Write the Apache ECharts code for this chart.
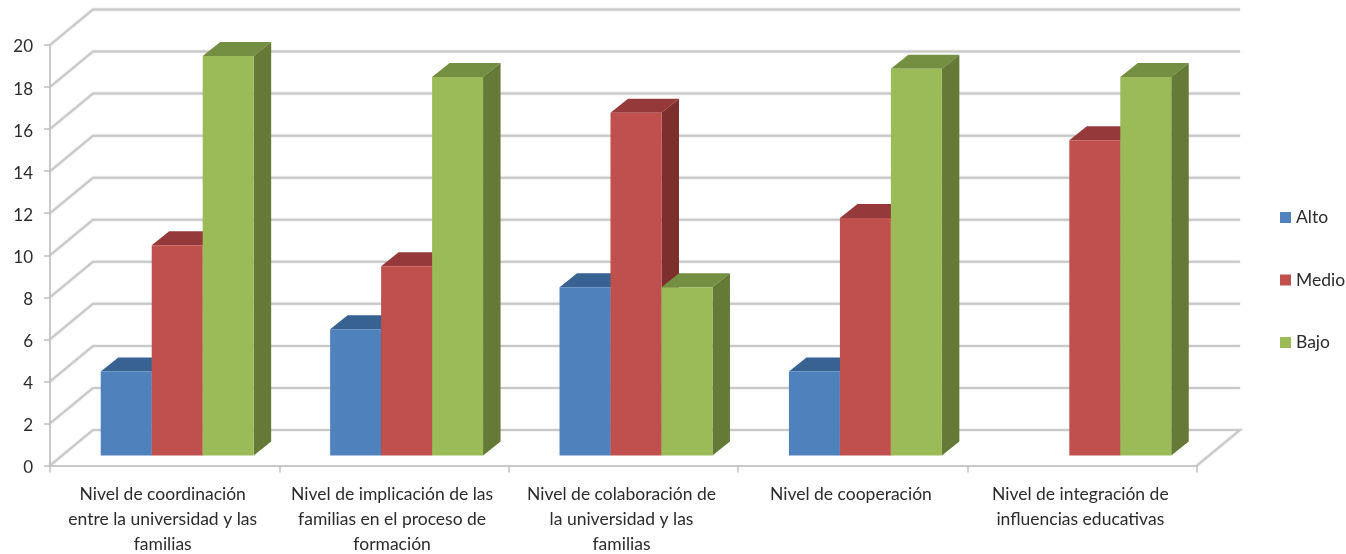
<!DOCTYPE html>
<html>
<head>
<meta charset="utf-8">
<style>html,body{margin:0;padding:0;background:#fff}#c{width:1346px;height:554px;filter:blur(0.5px)}</style>
<script src="https://cdn.jsdelivr.net/npm/echarts@6/dist/echarts.min.js"></script>
</head>
<body>
<div id="c"></div>
<script>
var categories = [
  "Nivel de coordinación\nentre la universidad y las\nfamilias",
  "Nivel de implicación de las\nfamilias en el proceso de\nformación",
  "Nivel de colaboración de\nla universidad y las\nfamilias",
  "Nivel de cooperación",
  "Nivel de integración de\ninfluencias educativas"
];
var alto = [4, 6, 8, 4, null];
var medio = [10, 9, 16.3, 11.3, 15];
var bajo = [19, 18, 8, 18.4, 18];
var yTicks = [0, 2, 4, 6, 8, 10, 12, 14, 16, 18, 20];

var FONT = 'Lato, "Open Sans", sans-serif';
var WALL = { dx: 43, dy: -35.5 };
var BASE = { dx: 12.5, dy: -10 };
var DEPTH = { dx: 17.5, dy: -14 };
var GAP_RATIO = 4.5;

function wallItem(params, api) {
  var cs = params.coordSys;
  var v = api.value(0);
  var y = api.coord([0, v])[1];
  var xl = cs.x, xr = cs.x + cs.width;
  var style = { stroke: '#c9c9c9', lineWidth: 2, fill: null, shadowBlur: 1.5, shadowColor: 'rgba(150,150,150,0.5)' };
  var pts = v === 0
    ? [[xr, y], [xr + WALL.dx, y + WALL.dy], [xl + WALL.dx, y + WALL.dy], [xl, y]]
    : [[xl, y], [xl + WALL.dx, y + WALL.dy], [xr + WALL.dx, y + WALL.dy]];
  return { type: 'polyline', shape: { points: pts }, style: style, silent: true };
}

function barRender(index, face, top, side) {
  return function (params, api) {
    var val = api.value(1);
    if (val === null || val === undefined || isNaN(val)) return null;
    var cat = api.value(0);
    var catW = api.size([1, 0])[0];
    var w = catW / GAP_RATIO;
    var cx = api.coord([cat, 0])[0];
    var x0 = cx - 1.5 * w + index * w + BASE.dx;
    var x1 = x0 + w;
    var y0 = api.coord([cat, 0])[1] + BASE.dy;
    var y1 = api.coord([cat, val])[1] + BASE.dy;
    var d = DEPTH;
    return {
      type: 'group',
      children: [
        { type: 'polygon', shape: { points: [[x0, y1], [x0 + d.dx, y1 + d.dy], [x1 + d.dx, y1 + d.dy], [x1, y1]] }, style: { fill: top } },
        { type: 'polygon', shape: { points: [[x1, y1], [x1 + d.dx, y1 + d.dy], [x1 + d.dx, y0 + d.dy], [x1, y0]] }, style: { fill: side } },
        { type: 'rect', shape: { x: x0, y: y1, width: w, height: y0 - y1 }, style: { fill: face } }
      ]
    };
  };
}

function barSeries(name, values, index, face, top, side) {
  return {
    name: name,
    type: 'custom',
    z: 3,
    coordinateSystem: 'cartesian2d',
    itemStyle: { color: face },
    encode: { x: 0, y: 1 },
    data: values.map(function (v, i) { return [i, v]; }),
    renderItem: barRender(index, face, top, side),
    clip: false
  };
}

var chart = echarts.init(document.getElementById('c'), null, { renderer: 'canvas' });
chart.setOption({
  animation: false,
  backgroundColor: '#ffffff',
  grid: { left: 50, top: 45, width: 1147, height: 420.5, containLabel: false, outerBoundsMode: 'none' },
  legend: {
    orient: 'vertical', left: 1275, top: 203,
    itemWidth: 11, itemHeight: 11, itemGap: 43.5,
    icon: 'rect',
    data: ['Alto', 'Medio', 'Bajo'],
    textStyle: { fontFamily: FONT, fontSize: 17.5, color: '#2b2b2b', lineHeight: 19 }
  },
  xAxis: {
    type: 'category',
    data: categories,
    axisLine: { lineStyle: { color: '#c9c9c9', width: 2 } },
    axisTick: { show: true, length: 7, lineStyle: { color: '#c0c0c0', width: 1.5 } },
    axisLabel: { interval: 0, margin: 16, fontFamily: FONT, fontSize: 17.5, color: '#2b2b2b', lineHeight: 25, verticalAlign: 'top', hideOverlap: false, padding: [0, 4, 0, 0] },
    splitLine: { show: false }
  },
  yAxis: {
    type: 'value', min: 0, max: 20, interval: 2,
    axisLine: { show: true, lineStyle: { color: '#c9c9c9', width: 2 } },
    axisTick: { show: true, length: 6, lineStyle: { color: '#c0c0c0', width: 1.5 } },
    axisLabel: {
      margin: 17, formatter: '{t|{value}}',
      rich: { t: { fontFamily: FONT, fontSize: 17, color: '#2b2b2b', padding: [4, 0, 0, 0] } }
    },
    splitLine: { show: false }
  },
  series: [
    {
      name: 'walls', type: 'custom', z: 1, clip: false,
      coordinateSystem: 'cartesian2d',
      encode: { y: 0 },
      data: yTicks.map(function (t) { return [t]; }),
      renderItem: wallItem
    },
    barSeries('Alto', alto, 0, '#4f81bd', '#386291', '#2f5580'),
    barSeries('Medio', medio, 1, '#c0504d', '#95393a', '#7d2f2e'),
    barSeries('Bajo', bajo, 2, '#9bbb59', '#758f42', '#647a36')
  ]
});
</script>
</body>
</html>
